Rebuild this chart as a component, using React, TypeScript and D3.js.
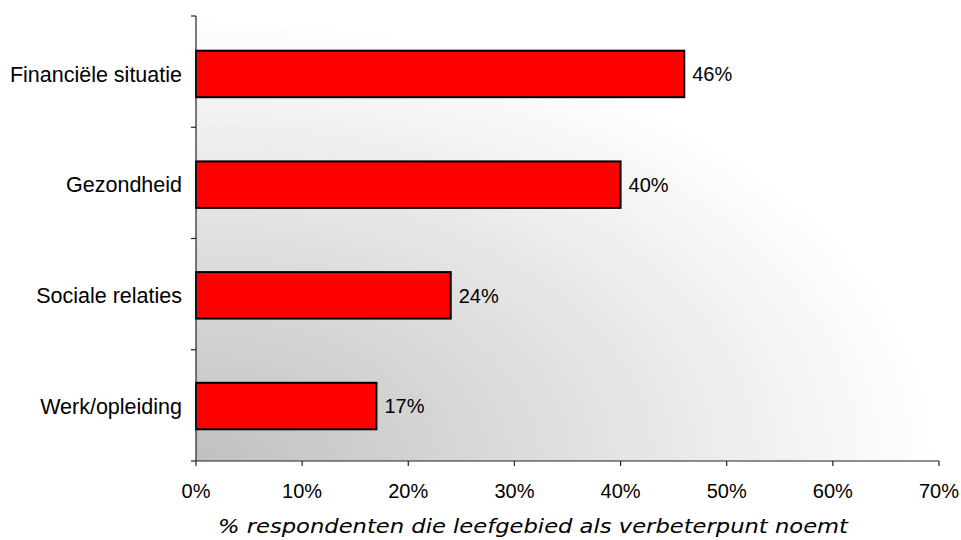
import React from "react";
import * as d3 from "d3";

const categories = ["Financiële situatie", "Gezondheid", "Sociale relaties", "Werk/opleiding"];
const values = [46, 40, 24, 17];
const xTicks = [0, 10, 20, 30, 40, 50, 60, 70];
const xTitle = "% respondenten die leefgebied als verbeterpunt noemt";

const W = 961, H = 540;
const M = { left: 196, top: 16, right: 22, bottom: 79 };

export default function App() {
  const x = d3.scaleLinear().domain([0, 70]).range([M.left, W - M.right]);
  const y = d3.scaleBand<string>().domain(categories).range([M.top, H - M.bottom]).paddingInner(0.58).paddingOuter(0.3);
  const y0 = M.top, y1 = H - M.bottom;
  const yTickPos = d3.range(categories.length + 1).map(i => y0 + i * ((y1 - y0) / categories.length));
  const font = "Liberation Sans, Arial, sans-serif";
  return (
    <svg width={W} height={H} style={{ position: "absolute", left: 0, top: 0 }}>
      <defs>
        <radialGradient id="bg" cx="0" cy="1" r="1" fx="0" fy="1">
          <stop offset="0" stopColor="#c0c0c0" />
          <stop offset="1" stopColor="#ffffff" />
        </radialGradient>
      </defs>
      <rect x={M.left} y={y0} width={x(70) - M.left} height={y1 - y0} fill="url(#bg)" />
      {categories.map((c, i) => (
        <g key={c}>
          <rect x={x(0)} y={y(c)! + 1.5} width={x(values[i]) - x(0)} height={y.bandwidth()} fill="#ff0000" stroke="#000" strokeWidth={2} />
          <text x={x(values[i]) + 8} y={y(c)! + 1.5 + y.bandwidth() / 2} dy="0.36em" fontFamily={font} fontSize={20} fill="#000">{values[i]}%</text>
          <text x={182} y={y(c)! + 1.5 + y.bandwidth() / 2} dy="0.36em" textAnchor="end" fontFamily={font} fontSize={21.5} fill="#000">{c}</text>
        </g>
      ))}
      <line x1={x(0)} x2={x(0)} y1={y0} y2={y1} stroke="#222" strokeWidth={1.2} />
      {yTickPos.map((p, i) => (
        <line key={i} x1={x(0) - 5} x2={x(0)} y1={p} y2={p} stroke="#222" strokeWidth={1.2} />
      ))}
      <line x1={x(0)} x2={x(70)} y1={y1} y2={y1} stroke="#222" strokeWidth={1.2} />
      {xTicks.map(t => (
        <g key={t}>
          <line x1={x(t)} x2={x(t)} y1={y1} y2={y1 + 5} stroke="#222" strokeWidth={1.2} />
          <text x={x(t)} y={498} textAnchor="middle" fontFamily={font} fontSize={20} fill="#000">{t}%</text>
        </g>
      ))}
      <text x={218} y={533} textLength={630} lengthAdjust="spacingAndGlyphs" fontFamily="DejaVu Sans, sans-serif" fontStyle="italic" fontSize={20} fill="#000">{xTitle}</text>
    </svg>
  );
}
